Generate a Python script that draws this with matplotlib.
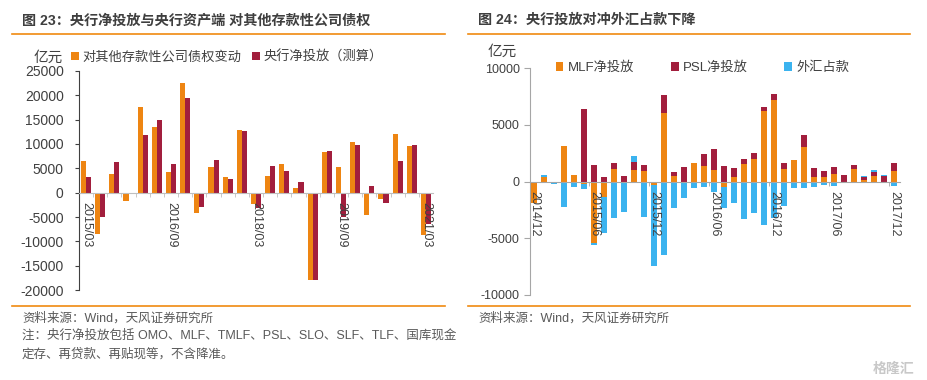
import numpy as np
import matplotlib
matplotlib.use("Agg")
import matplotlib.pyplot as plt
from matplotlib.lines import Line2D

plt.rcParams['font.family'] = ['Liberation Sans', 'Noto Sans CJK SC', 'DejaVu Sans']
plt.rcParams['axes.unicode_minus'] = False

# ---- left chart: quarterly, 2015Q1 .. 2021Q1 (亿元)
quarters = ["2015/03", "2015/06", "2015/09", "2015/12", "2016/03", "2016/06", "2016/09",
            "2016/12", "2017/03", "2017/06", "2017/09", "2017/12", "2018/03", "2018/06",
            "2018/09", "2018/12", "2019/03", "2019/06", "2019/09", "2019/12", "2020/03",
            "2020/06", "2020/09", "2020/12", "2021/03"]
claims_change = [6600, -8500, 3900, -1700, 17500, 13400, 4300, 22500, -4200, 5200, 3300, 12800,
                 -2300, 3500, 5900, 900, -17900, 8400, 5200, 10400, -4600, -1300, 12000, 9500, -8600]
net_injection = [3300, -4900, 6400, -300, 11800, 14900, 5900, 19400, -3000, 6800, 2900, 12700,
                 -3100, 5400, 4400, 2200, -18000, 8600, -5100, 9700, 1300, -2100, 6600, 9700, -6500]
left_ticklabels = ["2015/03", "2016/09", "2018/03", "2019/09", "2021/03"]

# ---- right chart: monthly, 2014/12 .. 2017/12 (亿元)
months = ["2014/12", "2015/01", "2015/02", "2015/03", "2015/04", "2015/05", "2015/06", "2015/07",
          "2015/08", "2015/09", "2015/10", "2015/11", "2015/12", "2016/01", "2016/02", "2016/03",
          "2016/04", "2016/05", "2016/06", "2016/07", "2016/08", "2016/09", "2016/10", "2016/11",
          "2016/12", "2017/01", "2017/02", "2017/03", "2017/04", "2017/05", "2017/06", "2017/07",
          "2017/08", "2017/09", "2017/10", "2017/11", "2017/12"]
mlf = [-1900, 440, 0, 3130, 580, -200, -5430, -1370, 1090, 0, 1020, 930, -300, 6080, 510, 0,
       1610, 1380, 1020, -440, 440, 1530, 2000, 6230, 7230, 1090, 1910, 3030, 380, 440, 680, 0,
       1090, 150, 530, 0, 940]
psl = [0, 0, 0, 0, 0, 6450, 1500, 370, 580, 520, 700, 580, 0, 1520, 370, 1310,
       0, 1070, 1820, 1380, 740, 470, 500, 360, 470, 590, 0, 1060, 850, 500, 610, 590,
       350, 290, 350, 530, 740]
fx = [0, 150, -240, -2280, -460, -450, -150, -3130, -3240, -2660, 530, -3160, -7150, -6500, -2290, -1470,
      -580, -510, -900, -1910, -1910, -3320, -2730, -3820, -3180, -2120, -590, -590, -440, -290, -380, -90,
      -60, 90, 120, 90, -380]
right_ticklabels = ["2014/12", "2015/06", "2015/12", "2016/06", "2016/12", "2017/06", "2017/12"]

ORANGE = "#EE8512"
MAROON = "#A21E3D"
BLUE = "#3BB3EF"
TXT = "#404040"
LINE = "#F08A10"

fig = plt.figure(figsize=(9.28, 3.8), dpi=100)

# ================= left panel =================
ax1 = fig.add_axes([0.0851, 0.2368, 0.3815, 0.5764])
x = np.arange(len(quarters))
ax1.bar(x - 0.18, claims_change, width=0.36, color=ORANGE, label="对其他存款性公司债权变动")
ax1.bar(x + 0.18, net_injection, width=0.36, color=MAROON, label="央行净投放（测算）")
ax1.set_xlim(-0.5, len(quarters) - 0.5)
ax1.set_ylim(-20000, 25000)
ax1.set_yticks(np.arange(-20000, 25001, 5000))
for s in ["top", "right"]:
    ax1.spines[s].set_visible(False)
ax1.spines["bottom"].set_position(("data", 0))
ax1.spines["bottom"].set_color("#BFBFBF")
ax1.spines["left"].set_color("#404040")
ax1.set_xticks([quarters.index(q) for q in left_ticklabels])
ax1.set_xticklabels(left_ticklabels, rotation=270, fontsize=9, color=TXT)
ax1.set_xticks(x[:-1] + 0.5, minor=True)
ax1.tick_params(axis="x", which="major", length=0, pad=7)
ax1.tick_params(axis="x", which="minor", length=3, color="#BFBFBF")
ax1.tick_params(axis="y", length=3, pad=8, color="#404040", labelsize=10, labelcolor=TXT)
ax1.legend(loc="center left", bbox_to_anchor=(0.069, 0.85), bbox_transform=fig.transFigure,
           ncol=2, frameon=False, fontsize=9.5, handlelength=0.6, handleheight=0.6,
           handletextpad=0.3, columnspacing=0.8, borderpad=0, labelcolor=TXT)
fig.text(0.0356, 0.848, "亿元", fontsize=10.5, color=TXT, va="center")

# ================= right panel =================
ax2 = fig.add_axes([0.5711, 0.2237, 0.3987, 0.5966])
xm = np.arange(len(months))
pos_base = np.zeros(len(months))
neg_base = np.zeros(len(months))
for vals, col, lab in [(mlf, ORANGE, "MLF净投放"), (psl, MAROON, "PSL净投放"), (fx, BLUE, "外汇占款")]:
    v = np.array(vals, dtype=float)
    base = np.where(v >= 0, pos_base, neg_base)
    ax2.bar(xm, v, width=0.6, bottom=base, color=col, label=lab)
    pos_base = pos_base + np.clip(v, 0, None)
    neg_base = neg_base + np.clip(v, None, 0)
ax2.set_xlim(-0.4, 36.6)
ax2.set_ylim(-10000, 10000)
ax2.set_yticks([-10000, -5000, 0, 5000, 10000])
for s in ["top", "right"]:
    ax2.spines[s].set_visible(False)
ax2.spines["bottom"].set_position(("data", 0))
ax2.spines["bottom"].set_color("#A6A6A6")
ax2.spines["left"].set_color("#A6A6A6")
ax2.set_xticks([months.index(m) for m in right_ticklabels])
ax2.set_xticklabels(right_ticklabels, rotation=270, fontsize=9, color=TXT)
ax2.set_xticks([months.index(m) - 0.5 for m in right_ticklabels[1:]], minor=True)
ax2.tick_params(axis="x", which="major", length=0, pad=7)
ax2.tick_params(axis="x", which="minor", length=3, color="#A6A6A6")
ax2.tick_params(axis="y", length=4, color="#A6A6A6", labelsize=9, labelcolor=TXT)
ax2.legend(loc="center left", bbox_to_anchor=(0.5915, 0.821), bbox_transform=fig.transFigure,
           ncol=3, frameon=False, fontsize=9.5, handlelength=0.6, handleheight=0.6,
           handletextpad=0.3, columnspacing=2.8, borderpad=0, labelcolor=TXT)
fig.text(0.525, 0.863, "亿元", fontsize=10.5, color=TXT, va="center")

# ================= titles, rules, notes =================
fig.text(0.0237, 0.947, "图 23：央行净投放与央行资产端 对其他存款性公司债权", fontsize=10.2,
         fontweight="bold", color="#3F3F3F", va="center")
fig.text(0.515, 0.947, "图 24：央行投放对冲外汇占款下降", fontsize=10.2,
         fontweight="bold", color="#3F3F3F", va="center")
for x0, x1 in [(0.0129, 0.4795), (0.504, 0.981)]:
    fig.add_artist(Line2D([x0, x1], [0.9105, 0.9105], color=LINE, lw=1.2))
    fig.add_artist(Line2D([x0, x1], [0.1947, 0.1947], color=LINE, lw=1.2))

fig.text(0.0237, 0.163, "资料来源：Wind，天风证券研究所", fontsize=9, color="#595959", va="center")
fig.text(0.0237, 0.116, "注：央行净投放包括 OMO、MLF、TMLF、PSL、SLO、SLF、TLF、国库现金",
         fontsize=9, color="#595959", va="center")
fig.text(0.0237, 0.068, "定存、再贷款、再贴现等，不含降准。", fontsize=9, color="#595959", va="center")
fig.text(0.515, 0.163, "资料来源：Wind，天风证券研究所", fontsize=9, color="#595959", va="center")
fig.text(0.985, 0.03, "格隆汇", fontsize=10, color="#C8C8C8", ha="right", va="center",
         fontweight="bold")

fig.savefig("out.png", dpi=100)
